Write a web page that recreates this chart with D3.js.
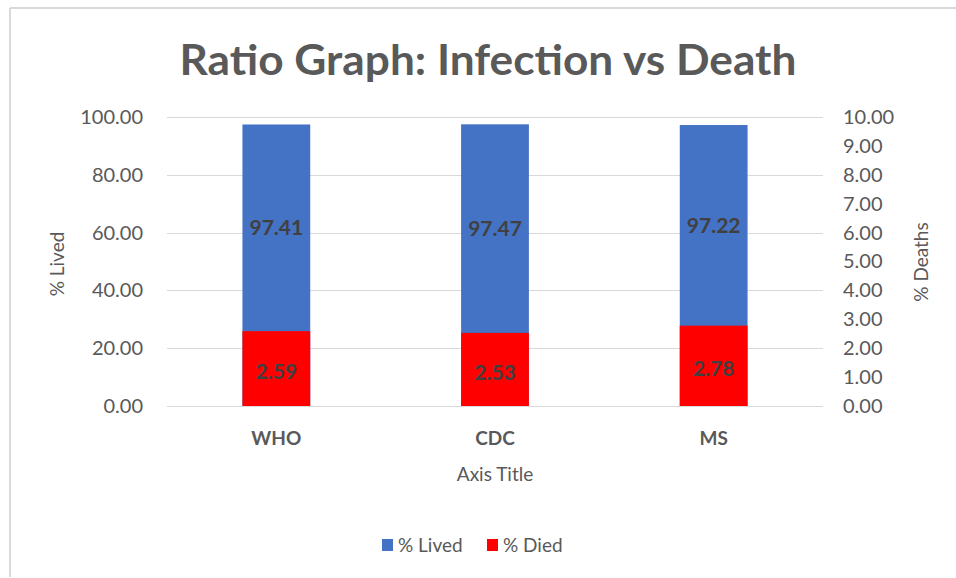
<!DOCTYPE html>
<html>
<head>
<meta charset="utf-8">
<script src="https://cdn.jsdelivr.net/npm/d3@7"></script>
<style>
  html, body { margin: 0; padding: 0; background: #fff; }
  svg { display: block; }
  text { font-family: Lato, "Open Sans", sans-serif; }
</style>
</head>
<body>
<svg id="chart" width="956" height="578"></svg>
<script>
const categories = ["WHO", "CDC", "MS"];
const livedValues = [97.41, 97.47, 97.22];
const diedValues = [2.59, 2.53, 2.78];
const leftTicks = [0, 20, 40, 60, 80, 100];
const rightTicks = [0, 1, 2, 3, 4, 5, 6, 7, 8, 9, 10];
const seriesNames = ["% Lived", "% Died"];
const seriesColors = ["#4472C4", "#FF0000"];

const svg = d3.select("#chart");
const W = 956, H = 578;
const plot = { left: 167, right: 823, top: 117, bottom: 406 };

// chart frame (only top and left edges visible)
svg.append("line").attr("x1", 10).attr("x2", W).attr("y1", 8).attr("y2", 8)
  .attr("stroke", "#d9d9d9").attr("stroke-width", 2);
svg.append("line").attr("x1", 10).attr("x2", 10).attr("y1", 8).attr("y2", 577)
  .attr("stroke", "#d9d9d9").attr("stroke-width", 2);

// title
svg.append("text")
  .attr("x", 488).attr("y", 75)
  .attr("text-anchor", "middle")
  .attr("font-size", 42).attr("font-weight", 700)
  .attr("fill", "#595959")
  .attr("textLength", 617).attr("lengthAdjust", "spacingAndGlyphs")
  .text("Ratio Graph: Infection vs Death");

const x = d3.scaleBand().domain(categories).range([plot.left, plot.right]).padding(0);
const yL = d3.scaleLinear().domain([0, 100]).range([plot.bottom, plot.top]);
const yR = d3.scaleLinear().domain([0, 10]).range([plot.bottom, plot.top]);
const barW = x.bandwidth() * 0.31;

// gridlines
svg.append("g").selectAll("line").data(leftTicks).join("line")
  .attr("x1", plot.left).attr("x2", plot.right)
  .attr("y1", d => Math.round(yL(d)) + 0.5).attr("y2", d => Math.round(yL(d)) + 0.5)
  .attr("stroke", "#d9d9d9").attr("stroke-width", 1);

// left axis
const axL = svg.append("g").attr("transform", `translate(${plot.left - 24},0)`)
  .call(d3.axisLeft(yL).tickValues(leftTicks).tickFormat(d3.format(".2f")).tickSize(0).tickPadding(0));
axL.select(".domain").remove();
axL.selectAll("text").attr("font-size", 20).attr("fill", "#595959")
  .attr("font-family", "Lato, sans-serif");

// right axis
const axR = svg.append("g").attr("transform", `translate(${plot.right + 20},0)`)
  .call(d3.axisRight(yR).tickValues(rightTicks).tickFormat(d3.format(".2f")).tickSize(0).tickPadding(0));
axR.select(".domain").remove();
axR.selectAll("text").attr("font-size", 20).attr("fill", "#595959")
  .attr("font-family", "Lato, sans-serif");

// bars: lived (left axis)
const data = categories.map((c, i) => ({ c, lived: livedValues[i], died: diedValues[i] }));
svg.append("g").selectAll("rect").data(data).join("rect")
  .attr("x", d => x(d.c) + x.bandwidth() / 2 - barW / 2)
  .attr("width", barW)
  .attr("y", d => yL(d.lived))
  .attr("height", d => yL(0) - yL(d.lived))
  .attr("fill", seriesColors[0]);

// bars: died (right axis)
svg.append("g").selectAll("rect").data(data).join("rect")
  .attr("x", d => x(d.c) + x.bandwidth() / 2 - barW / 2)
  .attr("width", barW)
  .attr("y", d => yR(d.died))
  .attr("height", d => yR(0) - yR(d.died))
  .attr("fill", seriesColors[1]);

// data labels
svg.append("g").selectAll("text").data(data).join("text")
  .attr("x", d => x(d.c) + x.bandwidth() / 2)
  .attr("y", d => (yL(d.lived) + yR(d.died)) / 2)
  .attr("dy", "0.36em")
  .attr("text-anchor", "middle")
  .attr("font-size", 21).attr("font-weight", 700).attr("fill", "#404040")
  .text(d => d3.format(".2f")(d.lived));
svg.append("g").selectAll("text").data(data).join("text")
  .attr("x", d => x(d.c) + x.bandwidth() / 2)
  .attr("y", d => (yR(d.died) + yR(0)) / 2 + 3)
  .attr("dy", "0.36em")
  .attr("text-anchor", "middle")
  .attr("font-size", 21).attr("font-weight", 700).attr("fill", "#404040")
  .text(d => d3.format(".2f")(d.died));

// category axis labels
const axB = svg.append("g").attr("transform", `translate(0,${plot.bottom})`)
  .call(d3.axisBottom(x).tickSize(0).tickPadding(25));
axB.select(".domain").remove();
axB.selectAll("text").attr("font-size", 19).attr("font-weight", 700).attr("fill", "#595959")
  .attr("font-family", "Lato, sans-serif").attr("dy", "0.36em").attr("y", 32);

// axis titles
svg.append("text").attr("x", 495).attr("y", 474).attr("dy", "0.36em")
  .attr("text-anchor", "middle").attr("font-size", 19).attr("fill", "#595959")
  .text("Axis Title");
svg.append("text").attr("transform", "translate(57,264) rotate(-90)").attr("dy", "0.36em")
  .attr("text-anchor", "middle").attr("font-size", 19).attr("fill", "#595959")
  .text("% Lived");
svg.append("text").attr("transform", "translate(921,262) rotate(-90)").attr("dy", "0.36em")
  .attr("text-anchor", "middle").attr("font-size", 19).attr("fill", "#595959")
  .text("% Deaths");

// legend
const legendX = [382, 487];
const lg = svg.append("g").selectAll("g").data(seriesNames).join("g")
  .attr("transform", (d, i) => `translate(${legendX[i]},545)`);
lg.append("rect").attr("x", 0).attr("y", -6).attr("width", 11).attr("height", 12)
  .attr("fill", (d, i) => seriesColors[i]);
lg.append("text").attr("x", 16).attr("y", 0).attr("dy", "0.36em")
  .attr("font-size", 19).attr("fill", "#595959").text(d => d);
</script>
</body>
</html>
